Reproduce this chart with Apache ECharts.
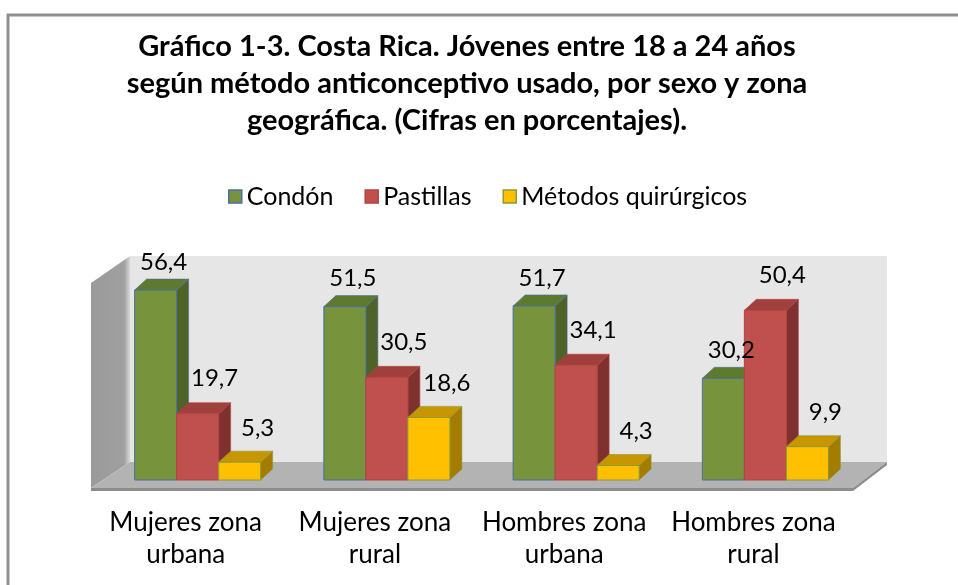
<!DOCTYPE html>
<html>
<head>
<meta charset="utf-8">
<script src="https://cdn.jsdelivr.net/npm/echarts@6/dist/echarts.min.js"></script>
<style>html,body{margin:0;padding:0;background:#fff;}#c{width:958px;height:585px;}</style>
</head>
<body>
<div id="c"></div>
<script>
const titleText = 'Gráfico 1-3. Costa Rica. Jóvenes entre 18 a 24 años\nsegún método anticonceptivo usado, por sexo y zona\ngeográfica. (Cifras en porcentajes).';
const categories = ['Mujeres zona\nurbana', 'Mujeres zona\nrural', 'Hombres zona\nurbana', 'Hombres zona\nrural'];
const seriesNames = ['Condón', 'Pastillas', 'Métodos quirúrgicos'];
const condon = [56.4, 51.5, 51.7, 30.2];
const pastillas = [19.7, 30.5, 34.1, 50.4];
const quirurgicos = [5.3, 18.6, 4.3, 9.9];
const yMin = 0, yMax = 60;

const styles = [
  {front: '#77933C', top: '#5E7A2E', side: '#4F6228', border: '#4A6FA5', lx: 8, ly: -28},
  {front: '#C0504D', top: '#A0403D', side: '#7F312F', border: '#B5433F', lx: 17, ly: -35},
  {front: '#FFC000', top: '#C79600', side: '#A37C00', border: '#8A9A3B', lx: 18, ly: -34}
];
const DX = 12, DY = 11;
const FONT = 'Lato, "Open Sans", sans-serif';

function fmt(v){ return v.toFixed(1).replace('.', ','); }

function makeRender(si){
  return function(params, api){
    const idx = api.value(0), v = api.value(1);
    const base = api.coord([idx, 0]);
    const topP = api.coord([idx, v]);
    const band = api.size([1, 0])[0];
    const bw = band * 0.222;
    const cx = base[0] + (si - 1) * bw;
    const x0 = cx - bw / 2, x1 = cx + bw / 2;
    const yb = base[1], yt = topP[1];
    const s = styles[si];
    const zb = si * 3;
    return {
      type: 'group',
      children: [
        {type: 'polygon', z2: zb + 1, shape: {points: [[x1, yt], [x1 + DX, yt - DY], [x1 + DX, yb - DY], [x1, yb]]},
         style: {fill: s.side, stroke: s.border, lineWidth: 0.6}},
        {type: 'polygon', z2: zb + 2, shape: {points: [[x0, yt], [x0 + DX, yt - DY], [x1 + DX, yt - DY], [x1, yt]]},
         style: {fill: s.top, stroke: s.border, lineWidth: 0.6}},
        {type: 'rect', z2: zb + 3, shape: {x: x0, y: yt, width: bw, height: yb - yt},
         style: {fill: s.front, stroke: s.border, lineWidth: 1}},
        {type: 'text', z2: 100, style: {text: fmt(v), x: cx + s.lx, y: yt + s.ly, align: 'center', verticalAlign: 'middle',
          font: '24px ' + FONT, fill: '#000'}}
      ]
    };
  };
}

const dataSets = [condon, pastillas, quirurgicos];
const series = dataSets.map((arr, si) => ({
  name: seriesNames[si],
  type: 'custom',
  xAxisIndex: 0, yAxisIndex: 0,
  renderItem: makeRender(si),
  itemStyle: {color: styles[si].front, borderColor: styles[si].border},
  encode: {x: 0, y: 1},
  data: arr.map((v, i) => [i, v]),
  z: 10
}));

const chart = echarts.init(document.getElementById('c'), null, {renderer: 'canvas'});
chart.setOption({
  backgroundColor: '#fff',
  animation: false,
  title: {
    text: titleText, left: 467, top: 28, textAlign: 'center', padding: 0,
    textStyle: {fontFamily: FONT, fontWeight: 'bold', fontSize: 29, lineHeight: 37, color: '#000'}
  },
  legend: {
    left: 228, top: 184, itemWidth: 13, itemHeight: 13, itemGap: 31, padding: 0,
    textStyle: {fontFamily: FONT, fontSize: 25, color: '#000'},
    data: seriesNames.map((n, si) => ({name: n, icon: 'rect',
      itemStyle: {color: styles[si].front, borderColor: styles[si].border, borderWidth: 1.5}}))
  },
  graphic: [
    {type: 'rect', shape: {x: 8, y: 15, width: 1000, height: 700}, style: {fill: 'none', stroke: '#8f8f8f', lineWidth: 3}, z: 0},
    {type: 'rect', shape: {x: 130, y: 256, width: 757, height: 206}, style: {fill: '#E6E6E6'}, z: 1},
    {type: 'polygon', shape: {points: [[91, 283], [130, 256], [130, 462], [91, 488]]},
     style: {fill: {type: 'linear', x: 0, y: 0, x2: 1, y2: 0, colorStops: [{offset: 0, color: '#9A9A9A'}, {offset: 0.85, color: '#A0A0A0'}, {offset: 1, color: '#D8D8D8'}]}}, z: 1},
    {type: 'polygon', shape: {points: [[130, 462], [887, 462], [853, 488], [91, 488]]}, style: {fill: '#B3B3B3'}, z: 1},
    {type: 'polygon', shape: {points: [[91, 488], [853, 488], [853, 491], [91, 491]]}, style: {fill: '#8C8C8C'}, z: 1},
    {type: 'polygon', shape: {points: [[853, 488], [887, 462], [887, 465], [853, 491]]}, style: {fill: '#8C8C8C'}, z: 1}
  ],
  grid: [
    {left: 103, right: 98, top: 278, bottom: 105},
    {left: 91, right: 110, top: 278, bottom: 97}
  ],
  xAxis: [
    {type: 'category', gridIndex: 0, data: categories, show: false},
    {type: 'category', gridIndex: 1, data: categories,
     axisLine: {show: false}, axisTick: {show: false},
     axisLabel: {margin: 19, fontFamily: FONT, fontSize: 26, lineHeight: 32, color: '#000', interval: 0}}
  ],
  yAxis: [
    {type: 'value', gridIndex: 0, min: yMin, max: yMax, show: false},
    {type: 'value', gridIndex: 1, min: yMin, max: yMax, show: false}
  ],
  series: series
});
</script>
</body>
</html>
